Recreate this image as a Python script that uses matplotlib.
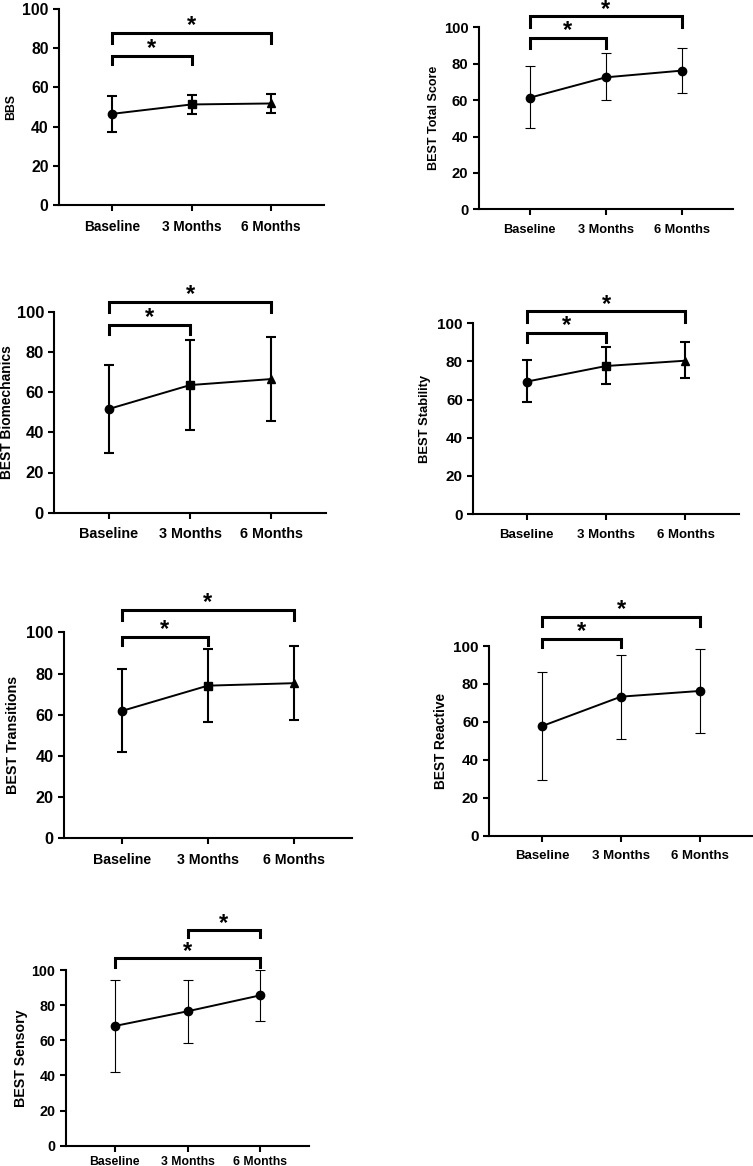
import matplotlib
matplotlib.use("Agg")
import matplotlib.pyplot as plt

plt.rcParams['font.family'] = ['Liberation Sans', 'DejaVu Sans']
plt.rcParams['font.weight'] = 'bold'

timepoints = ["Baseline", "3 Months", "6 Months"]

bbs_mean = [46.5, 51.3, 51.8]
bbs_low = [37.5, 46.5, 47.0]
bbs_high = [55.5, 56.0, 56.5]

total_mean = [61.3, 72.5, 76.2]
total_low = [44.5, 60.0, 63.7]
total_high = [78.6, 85.7, 88.5]

biomech_mean = [51.6, 63.5, 66.5]
biomech_low = [29.9, 41.1, 45.8]
biomech_high = [73.4, 85.8, 87.6]

stability_mean = [69.4, 77.6, 80.4]
stability_low = [58.7, 68.0, 71.3]
stability_high = [80.6, 87.4, 90.0]

transitions_mean = [61.8, 74.1, 75.3]
transitions_low = [41.7, 56.3, 57.4]
transitions_high = [82.0, 91.7, 93.3]

reactive_mean = [57.8, 73.3, 76.3]
reactive_low = [29.4, 51.1, 54.0]
reactive_high = [86.1, 95.4, 98.6]

sensory_mean = [68.1, 76.5, 85.6]
sensory_low = [41.9, 58.6, 71.1]
sensory_high = [94.3, 94.3, 100.0]

W, H = 753, 1166
fig = plt.figure(figsize=(W / 100, H / 100), dpi=100)

# panel layout in pixels: left, right, y-of-0, y-of-100 ; label_x = ylabel centre x in pixels
panels = [
    dict(label="BBS", mean=bbs_mean, low=bbs_low, high=bbs_high,
         box=(59, 324, 205, 9), label_x=11, markers=['o', 's', '^'], thick=True,
         tick_fs=9.8, lab_fs=8.8, xpad=6,
         brackets=[(0, 2, 88, 82.8, 91.8), (0, 1, 76, 72, 79.8)]),
    dict(label="BEST Total Score", mean=total_mean, low=total_low, high=total_high,
         box=(478.7, 732.7, 209.3, 27.3), label_x=434, markers=['o', 'o', 'o'], thick=False,
         tick_fs=9.2, lab_fs=9.0, xpad=6,
         brackets=[(0, 2, 106.2, 100.3, 109.6), (0, 1, 94.3, 88.8, 98.1)]),
    dict(label="BEST Biomechanics", mean=biomech_mean, low=biomech_low, high=biomech_high,
         box=(54.3, 326, 512.7, 311.7), label_x=7, markers=['o', 's', '^'], thick=True,
         tick_fs=10.4, lab_fs=9.9, xpad=6,
         brackets=[(0, 2, 105, 100, 108.6), (0, 1, 93.4, 88.8, 97.0)]),
    dict(label="BEST Stability", mean=stability_mean, low=stability_low, high=stability_high,
         box=(473.3, 738.7, 514, 323.3), label_x=425, markers=['o', 's', '^'], thick=True,
         tick_fs=9.5, lab_fs=9.4, xpad=6,
         brackets=[(0, 2, 106.3, 100.8, 109.9), (0, 1, 95.1, 90.4, 98.7)]),
    dict(label="BEST Transitions", mean=transitions_mean, low=transitions_low, high=transitions_high,
         box=(64, 351.7, 838.3, 632.3), label_x=13, markers=['o', 's', '^'], thick=True,
         tick_fs=10.2, lab_fs=10.3, xpad=6,
         brackets=[(0, 2, 110.8, 106, 114.3), (0, 1, 97.9, 93.8, 101.5)]),
    dict(label="BEST Reactive", mean=reactive_mean, low=reactive_low, high=reactive_high,
         box=(489.3, 752.7, 835.7, 646), label_x=441, markers=['o', 'o', 'o'], thick=False,
         tick_fs=9.5, lab_fs=9.8, xpad=6,
         brackets=[(0, 2, 115.3, 110.4, 119.1), (0, 1, 103.7, 99.3, 107.5)]),
    dict(label="BEST Sensory", mean=sensory_mean, low=sensory_low, high=sensory_high,
         box=(65.7, 309.3, 1145.7, 970), label_x=21, markers=['o', 'o', 'o'], thick=False,
         tick_fs=8.8, lab_fs=10.2, xpad=3,
         brackets=[(0, 2, 106.7, 101.5, 110.6), (1, 2, 122.8, 118.6, 126.7)]),
]

for p in panels:
    l, r, y0, y100 = p['box']
    ax = fig.add_axes([l / W, 1 - y0 / H, (r - l) / W, (y0 - y100) / H])
    x = list(range(len(timepoints)))
    m = p['mean']
    yerr = [[m[i] - p['low'][i] for i in x], [p['high'][i] - m[i] for i in x]]
    elw = 1.5 if p['thick'] else 0.8
    ax.errorbar(x, m, yerr=yerr, fmt='none', ecolor='black', elinewidth=elw,
                capsize=3.4, capthick=elw, zorder=2)
    ax.plot(x, m, color='black', lw=1.4, zorder=3)
    for i in x:
        mk = p['markers'][i]
        ms = 6 if mk == 'o' else (5.5 if mk == 's' else 6)
        ax.plot(x[i], m[i], marker=mk, color='black', ms=ms, ls='none', zorder=4)
    ax.set_xlim(-0.67, 2.67)
    ax.set_ylim(0, 100)
    ax.set_yticks([0, 20, 40, 60, 80, 100])
    ax.set_xticks(x)
    ax.set_xticklabels(timepoints, fontsize=p['tick_fs'], fontweight='bold')
    for t in ax.get_yticklabels():
        t.set_fontsize(p['tick_fs'] + 1.5)
        t.set_fontweight('bold')
    ax.set_ylabel(p['label'], fontsize=p['lab_fs'], fontweight='bold')
    ax.yaxis.label.set_verticalalignment('center')
    ax.yaxis.set_label_coords((p['label_x'] - l) / (r - l), 0.5)
    for s in ['top', 'right']:
        ax.spines[s].set_visible(False)
    for s in ['left', 'bottom']:
        ax.spines[s].set_linewidth(1.5)
    ax.tick_params(axis='both', direction='out', length=4.5, width=1.5, pad=3)
    ax.tick_params(axis='x', pad=p['xpad'])
    for (i, j, yb, yl, ys) in p['brackets']:
        ax.plot([i, i, j, j], [yl, yb, yb, yl], color='black', lw=2.2,
                clip_on=False, solid_joinstyle='miter', zorder=5)
        ax.text((i + j) / 2, ys, '*', ha='center', va='center', fontsize=17,
                fontweight='bold', clip_on=False)

fig.savefig("out.png", dpi=100)
